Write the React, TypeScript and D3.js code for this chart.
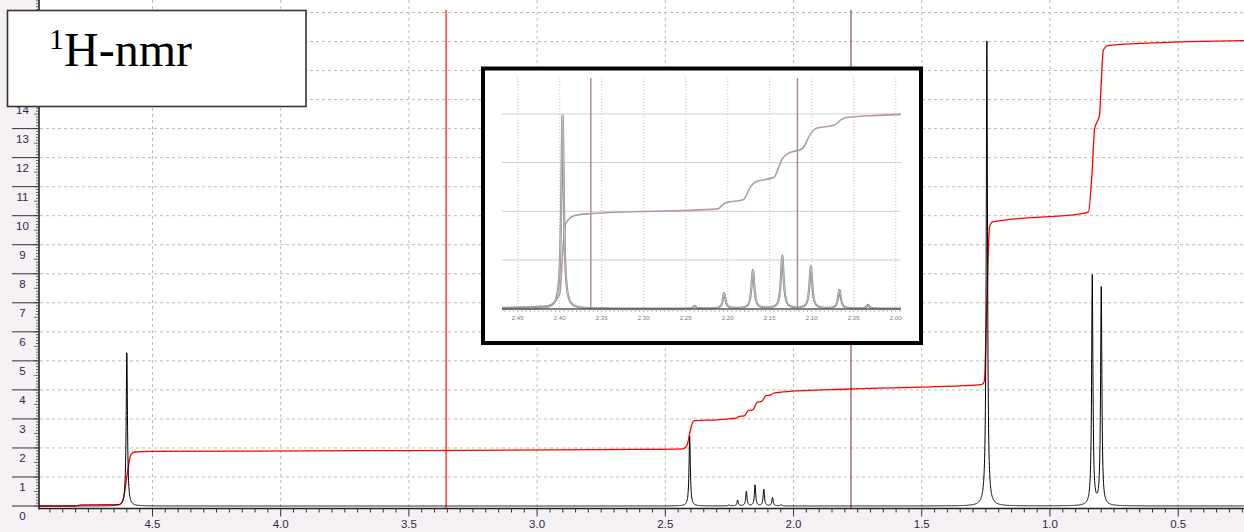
import React, { useMemo } from 'react';
import * as d3 from 'd3';

const W = 1244;
const H = 532;

// ---- main spectrum peak list (ppm, height in integral units, half width ppm)
const peakPpm = [4.6, 2.405, 2.252, 2.218, 2.184, 2.15, 2.116, 2.082, 2.048, 1.246, 0.835, 0.8];
const peakHeight = [5.28, 2.4, 0.04, 0.2, 0.5, 0.72, 0.57, 0.29, 0.05, 16.02, 7.92, 7.5];
const peakWidth = [0.003, 0.003, 0.003, 0.003, 0.003, 0.003, 0.003, 0.003, 0.003, 0.003, 0.003, 0.003];

// ---- main integral curve (ppm, value)
const integralPpm = [
  4.942, 4.8, 4.78, 4.63, 4.615, 4.6, 4.585, 4.57, 4.5, 3.5, 2.6, 2.43, 2.415, 2.405, 2.395, 2.385, 2.3,
  2.262, 2.244, 2.227, 2.21, 2.193, 2.176, 2.159, 2.141, 2.125, 2.107, 2.091, 2.074, 2.058, 2.04,
  1.776, 1.28, 1.265, 1.256, 1.246, 1.236, 1.225, 1.2, 0.87, 0.85, 0.835, 0.826, 0.815, 0.807, 0.8,
  0.792, 0.775, 0.6, 0.243,
];
const integralValue = [
  0.0, 0.0, 0.04, 0.05, 0.2, 1.0, 1.75, 1.86, 1.88, 1.91, 1.95, 1.97, 2.1, 2.5, 2.85, 2.94, 2.97,
  2.99, 3.01, 3.02, 3.09, 3.1, 3.29, 3.31, 3.58, 3.6, 3.8, 3.82, 3.9, 3.91, 3.93,
  4.03, 4.17, 4.19, 4.3, 7.0, 9.6, 9.78, 9.82, 10.08, 10.13, 11.6, 13.0, 13.25, 13.45, 14.6,
  15.7, 15.86, 15.95, 16.03,
];

const xTickLabels = ['4.5', '4.0', '3.5', '3.0', '2.5', '2.0', '1.5', '1.0', '0.5'];
const yTickLabels = ['0', '1', '2', '3', '4', '5', '6', '7', '8', '9', '10', '11', '12', '13', '14'];
const cursorPpm = [3.355, 1.776];

// ---- inset (expansion 2.47 - 1.99 ppm)
const insetPeakPpm = [2.3966, 2.2393, 2.2042, 2.17, 2.135, 2.101, 2.067, 2.033];
const insetPeakHeight = [3.98, 0.055, 0.31, 0.78, 1.07, 0.86, 0.38, 0.075];
const insetPeakWidth = [0.0018, 0.002, 0.002, 0.002, 0.002, 0.002, 0.002, 0.002];

const insetIntegralPpm = [
  2.4687, 2.414, 2.4, 2.396, 2.393, 2.383, 2.364, 2.212, 2.203, 2.181, 2.173, 2.167, 2.145, 2.135,
  2.129, 2.111, 2.101, 2.095, 2.073, 2.065, 2.057, 2.021, 1.994,
];
const insetIntegralValue = [
  0.025, 0.06, 0.3, 1.27, 1.74, 1.91, 1.95, 2.05, 2.17, 2.24, 2.5, 2.6, 2.7, 3.08, 3.18, 3.29, 3.6,
  3.7, 3.77, 3.88, 3.93, 3.97, 3.99,
];
const insetTickLabels = ['2.45', '2.40', '2.35', '2.30', '2.25', '2.20', '2.15', '2.10', '2.05', '2.00'];
const insetCursorPpm = [2.363, 2.117];

function spectrum(domain: [number, number], step: number, pos: number[], hgt: number[], wid: number[]) {
  const pts: number[] = [];
  for (let p = domain[0]; p >= domain[1]; p -= step) pts.push(p);
  pos.forEach((p) => pts.push(p));
  pts.sort((a, b) => b - a);
  return pts.map((p) => {
    let v = 0;
    for (let i = 0; i < pos.length; i++) {
      const d = (p - pos[i]) / wid[i];
      v += hgt[i] / (1 + d * d);
    }
    return [p, v] as [number, number];
  });
}

const LABEL_FONT = "'Liberation Sans', Arial, sans-serif";

export default function App() {
  const x = d3.scaleLinear().domain([4.9425, 0.2433]).range([39, 1244]);
  const y = d3.scaleLinear().domain([0, 17.4]).range([506, 506 - 17.4 * 29.03]);
  const axisY = 508.5;

  const specData = useMemo(() => spectrum([4.9425, 0.2433], 0.0006, peakPpm, peakHeight, peakWidth), []);
  const specPath = d3.line<[number, number]>().x((d) => x(d[0])).y((d) => y(d[1]))(specData) || '';

  const integ = integralPpm.map((p, i) => [p, integralValue[i]] as [number, number]);
  const integPath =
    d3.line<[number, number]>().x((d) => x(d[0])).y((d) => y(d[1])).curve(d3.curveMonotoneX)(integ) || '';

  // inset scales
  const xi = d3.scaleLinear().domain([2.4687, 1.9937]).range([502, 901]);
  const yi = d3.scaleLinear().domain([0, 4]).range([308.7, 113.9]);
  const insetSpec = useMemo(
    () => spectrum([2.4687, 1.9937], 0.0002, insetPeakPpm, insetPeakHeight, insetPeakWidth),
    []
  );
  const insetSpecPath = d3.line<[number, number]>().x((d) => xi(d[0])).y((d) => yi(d[1]))(insetSpec) || '';
  const insetInteg = insetIntegralPpm.map((p, i) => [p, insetIntegralValue[i]] as [number, number]);
  const insetIntegPath =
    d3.line<[number, number]>().x((d) => xi(d[0])).y((d) => yi(d[1])).curve(d3.curveMonotoneX)(insetInteg) || '';

  const yGrid = d3.range(1, 18);
  const yMinor = d3.range(0, 175).map((i) => i / 10);
  const xMinor = d3.range(0, 95).map((i) => +(0.25 + i * 0.05).toFixed(2)).filter((p) => p <= 4.94);
  const insetMinor = d3.range(0, 96).map((i) => +(1.995 + i * 0.005).toFixed(3)).filter((p) => p <= 2.468);

  return (
    <svg
      width={W}
      height={H}
      style={{ position: 'absolute', left: 0, top: 0, display: 'block', background: '#fff' }}
    >
      {/* axis area background */}
      <rect x={0} y={0} width={39} height={H} fill="#f5f1f5" />
      <rect x={0} y={axisY} width={W} height={H - axisY} fill="#f5f1f5" />

      {/* horizontal grid */}
      {yGrid.map((v) => (
        <line key={'hg' + v} x1={40} x2={W} y1={y(v)} y2={y(v)} stroke="#bdbdbd" strokeWidth={1} strokeDasharray="3,3" />
      ))}
      {/* vertical grid */}
      {xTickLabels.map((t) => (
        <line key={'vg' + t} x1={x(+t)} x2={x(+t)} y1={0} y2={axisY} stroke="#bdbdbd" strokeWidth={1} strokeDasharray="3,3" />
      ))}

      {/* cursor lines */}
      <line x1={x(cursorPpm[0])} x2={x(cursorPpm[0])} y1={10} y2={axisY} stroke="#ff2020" strokeWidth={1.3} />
      <line x1={x(cursorPpm[1])} x2={x(cursorPpm[1])} y1={10} y2={axisY} stroke="#7a2a2a" strokeWidth={1} />

      {/* integral */}
      <path d={integPath} fill="none" stroke="#ff0000" strokeWidth={1.3} />
      {/* spectrum */}
      <path d={specPath} fill="none" stroke="#000" strokeWidth={1} />

      {/* axes */}
      <line x1={39} x2={W} y1={axisY} y2={axisY} stroke="#222" strokeWidth={1.6} />
      <line x1={39} x2={39} y1={0} y2={axisY + 1} stroke="#222" strokeWidth={1.6} />
      {xMinor.map((p) => {
        const major = Math.abs(p * 2 - Math.round(p * 2)) < 1e-6;
        return (
          <line key={'xt' + p} x1={x(p)} x2={x(p)} y1={axisY} y2={axisY + (major ? 8 : 4)} stroke="#333" strokeWidth={1} />
        );
      })}
      {xTickLabels.map((t) => (
        <text key={'xl' + t} x={x(+t)} y={528} fontSize={11.5} fontFamily={LABEL_FONT} fill="#2a2a44" textAnchor="middle">
          {t}
        </text>
      ))}
      {yMinor.map((v) => {
        const half = Math.abs(v * 2 - Math.round(v * 2)) < 1e-6;
        return (
          <line key={'ym' + v} x1={39 - (half ? 5 : 3)} x2={39} y1={y(v)} y2={y(v)} stroke="#444" strokeWidth={0.8} />
        );
      })}
      {yTickLabels.map((t) => (
        <g key={'yl' + t}>
          <line x1={12} x2={39} y1={y(+t)} y2={y(+t)} stroke="#333" strokeWidth={1} />
          <text x={22.5} y={y(+t) + 14} fontSize={11.5} fontFamily={LABEL_FONT} fill="#2a2a44" textAnchor="middle">
            {t}
          </text>
        </g>
      ))}

      {/* title box */}
      <rect x={7.5} y={10.5} width={298.5} height={96} fill="#fff" stroke="#333" strokeWidth={1.6} />
      <text x={49} y={66} fontFamily="'Liberation Serif', 'Times New Roman', serif" fontSize={48} fill="#000">
        <tspan fontSize={30} dy={-17}>
          1
        </tspan>
        <tspan dy={17}>H-nmr</tspan>
      </text>

      {/* inset */}
      <rect x={483} y={68.5} width={438} height={274.5} fill="#fff" stroke="#000" strokeWidth={4} />
      {[1, 2, 3, 4].map((v) => (
        <line key={'ihg' + v} x1={502} x2={901} y1={yi(v)} y2={yi(v)} stroke="#cfcfcf" strokeWidth={1} />
      ))}
      {insetTickLabels.map((t) => (
        <line key={'ivg' + t} x1={xi(+t)} x2={xi(+t)} y1={78} y2={308.7} stroke="#c4c4c4" strokeWidth={1} strokeDasharray="1,2" />
      ))}
      {insetCursorPpm.map((p) => (
        <line key={'ic' + p} x1={xi(p)} x2={xi(p)} y1={78} y2={308.7} stroke="#a08a8a" strokeWidth={1.4} />
      ))}
      <path d={insetIntegPath} fill="none" stroke="#b49c9c" strokeWidth={1.6} />
      <path d={insetSpecPath} fill="none" stroke="#8c8c8c" strokeWidth={2.2} />
      <path d={insetSpecPath} fill="none" stroke="#d4d4d4" strokeWidth={0.7} />
      <line x1={502} x2={901} y1={309} y2={309} stroke="#555" strokeWidth={1.6} />
      {insetMinor.map((p) => (
        <line key={'imt' + p} x1={xi(p)} x2={xi(p)} y1={309} y2={312} stroke="#999" strokeWidth={0.7} />
      ))}
      {insetTickLabels.map((t) => (
        <text key={'il' + t} x={xi(+t)} y={320} fontSize={6} fontFamily={LABEL_FONT} fill="#777" textAnchor="middle">
          {t}
        </text>
      ))}
    </svg>
  );
}
